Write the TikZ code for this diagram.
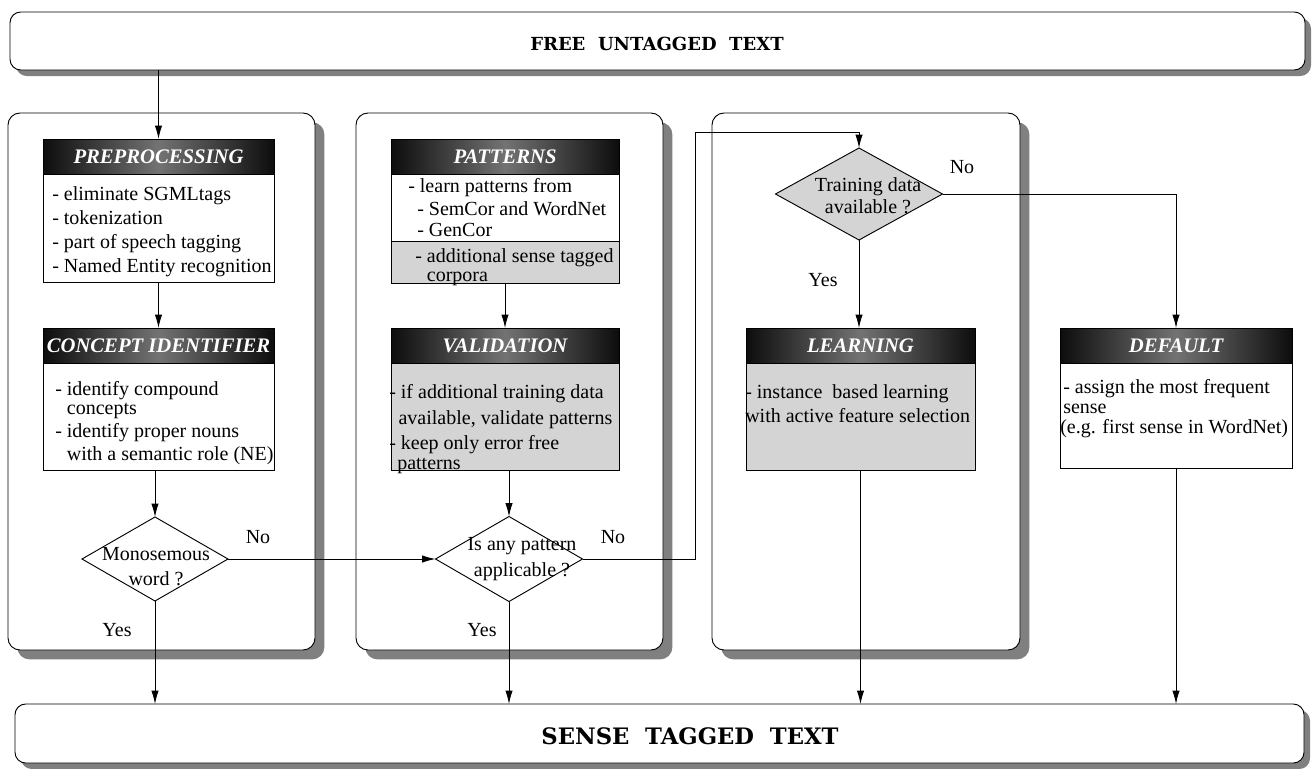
\documentclass[tikz,border=0pt]{standalone}
\usepackage{fontspec}
\setmainfont{Liberation Serif}
\newfontfamily\titlefont{DejaVu Serif}
\usepackage{tikz}
\usetikzlibrary{shapes.geometric,shadows,arrows.meta,positioning}
\tikzstyle{line} = [draw, line width=0.7pt, -{Latex[length=10pt,width=5.5pt]}]
\tikzstyle{panel} = [draw, line width=0.7pt, rounded corners=9pt, fill=white, inner sep=0pt, outer sep=0pt, drop shadow={shadow xshift=7pt, shadow yshift=-7pt, fill=black!50, opacity=1}]
\tikzstyle{textbar} = [draw, line width=0.7pt, rounded corners=8pt, fill=white, inner sep=0pt, outer sep=0pt, drop shadow={shadow xshift=4.5pt, shadow yshift=-4.5pt, fill=black!50, opacity=1}]
\tikzstyle{hdr} = [draw, line width=0.6pt, anchor=north west, inner sep=0pt, outer sep=0pt, minimum height=26.5pt, left color=black!95, right color=black!95, middle color=black!55, text=white, font=\fontsize{15.5}{18}\selectfont\bfseries\itshape]
\tikzstyle{body} = [draw, line width=0.6pt, inner sep=0pt, outer sep=0pt, minimum height=80.25pt, fill=white]
\tikzstyle{graybody} = [body, fill=black!17]
\tikzstyle{txt} = [anchor=north west, inner sep=0pt, align=left, font=\fontsize{15}{18}\selectfont]
\tikzstyle{decision} = [draw, diamond, line width=0.7pt, inner sep=0pt, outer sep=0pt, fill=white]
\tikzstyle{question} = [inner sep=0pt, align=center, font=\fontsize{15}{18.75}\selectfont]
\tikzstyle{answer} = [inner sep=0pt, font=\fontsize{15}{18}\selectfont]
\tikzstyle{title} = [inner sep=0pt, font=\titlefont\bfseries]

\begin{document}
\begin{tikzpicture}[x=0.75pt, y=-0.75pt]
	\useasboundingbox (0,0) rectangle (1312,768);
	
	\node [textbar, minimum width=971.25pt, minimum height=43.5pt] (topBox) at (657.5,41) {};
	\node [title, font=\titlefont\bfseries\fontsize{13.5}{16}\selectfont] (topTxt) at (657,44) {FREE\hspace{0.7em}UNTAGGED\hspace{0.7em}TEXT};
	
	\node [textbar, minimum width=966.75pt, minimum height=44.25pt] (senseBox) at (659.5,733.5) {};
	\node [title, font=\titlefont\bfseries\fontsize{17}{20}\selectfont] (senseTxt) at (690,736) {SENSE\hspace{0.7em}TAGGED\hspace{0.7em}TEXT};
	
	\node [panel, minimum width=230.25pt, minimum height=402.75pt] (pnlA) at (161.5,381.5) {};
	\node [panel, minimum width=230.25pt, minimum height=402.75pt] (pnlB) at (509.5,381.5) {};
	\node [panel, minimum width=231pt, minimum height=402.75pt] (pnlC) at (866,381.5) {};
	
	\node [hdr, minimum width=173.25pt] (prepHdr) at (43,139) {PREPROCESSING};
	\node [body, below=0pt of prepHdr, minimum width=173.25pt, minimum height=81pt] (prepBody) {};
	\node [txt] (prepTxt) at (52,183.2) {\strut- eliminate SGMLtags\\- tokenization\\- part of speech tagging\\- Named Entity recognition};
	
	\node [hdr, minimum width=173.25pt] (concHdr) at (43,328) {CONCEPT IDENTIFIER};
	\node [body, below=0pt of concHdr, minimum width=173.25pt] (concBody) {};
	\node [txt, font=\fontsize{15}{17.25}\selectfont] (concTxt) at (55,378.9) {\strut- identify compound\\[-3pt]\phantom{- }concepts\\- identify proper nouns\\\phantom{- }with a semantic role (NE)};
	
	\node [decision, minimum width=109.5pt, minimum height=63pt] (mono) at (155,559) {};
	\node [question] (monoTxt) at (156,567) {Monosemous\\word ?};
	
	\node [hdr, minimum width=171pt] (patHdr) at (391,139) {PATTERNS};
	\node [body, below=0pt of patHdr, minimum width=171pt, minimum height=50.25pt] (patBody) {};
	\node [graybody, below=0pt of patBody, minimum width=171pt, minimum height=31.5pt] (patXBody) {};
	\node [txt] (patTxt) at (408,175.2) {\strut- learn patterns from\\[-0.75pt]\hspace*{6.75pt}- SemCor and WordNet\\[-2.25pt]\hspace*{6.75pt}- GenCor};
	\node [txt] (patXTxt) at (415,245.2) {\strut- additional sense tagged\\[-3.75pt]\phantom{- }corpora};
	
	\node [hdr, minimum width=171pt] (valHdr) at (391,328) {VALIDATION};
	\node [graybody, below=0pt of valHdr, minimum width=171pt] (valBody) {};
	\node [txt, font=\fontsize{15}{18.75}\selectfont] (valTxt) at (389,380.5) {\strut- if additional training data\\[0.75pt]\hspace*{7pt}available, validate patterns\\- keep only error free\\[-3.75pt]\hspace*{6pt}patterns};
	
	\node [decision, minimum width=110.25pt, minimum height=63.75pt] (apply) at (509,559) {};
	\node [question, font=\fontsize{15}{20}\selectfont] (applyTxt) at (522,559) {Is any pattern\\applicable ?};
	
	\node [decision, fill=black!17, minimum width=125.25pt, minimum height=69pt] (train) at (859,194) {};
	\node [question, font=\fontsize{15}{16.5}\selectfont] (trainTxt) at (868,196) {Training data\\available ?};
	
	\node [hdr, minimum width=171.75pt] (learnHdr) at (746,328) {LEARNING};
	\node [graybody, below=0pt of learnHdr, minimum width=171.75pt] (learnBody) {};
	\node [txt] (learnTxt) at (745,381.2) {\strut- instance\ \ based learning\\with active feature selection};
	
	\node [hdr, minimum width=174pt] (defHdr) at (1060,328) {DEFAULT};
	\node [body, below=0pt of defHdr, minimum width=174pt, minimum height=78.75pt] (defBody) {};
	\node [txt, font=\fontsize{15}{15}\selectfont] (defTxt) at (1063,379) {\strut- assign the most frequent\\sense\\[0pt]\hspace*{-2.25pt}(e.g. first sense in WordNet)};
	
	\node [answer] (noA) at (258,537) {No};
	\node [answer] (yesA) at (117,630) {Yes};
	\node [answer] (noB) at (613,537) {No};
	\node [answer] (yesB) at (482,630) {Yes};
	\node [answer] (noC) at (962,167) {No};
	\node [answer] (yesC) at (823,280) {Yes};
	
	\coordinate (loopTurn) at (695,132);
	
	\path [line] (topBox.south -| prepHdr.north) to (prepHdr.north);
	\path [line] (prepBody.south) to (concHdr.north);
	\path [line] (concBody.south -| mono.north) to (mono.north);
	\path [line] (mono.south) to (mono.south |- senseBox.north);
	\path [line] (mono.east) to (apply.west);
	
	\path [line] (patXBody.south) to (valHdr.north);
	\path [line] (valBody.south -| apply.north) to (apply.north);
	\path [line] (apply.south) to (apply.south |- senseBox.north);
	\path [line] (apply.east) -| (loopTurn) -| (train.north);
	
	\path [line] (train.south) to (train.south |- learnHdr.north);
	\path [line] (train.east) -| (defHdr.north);
	\path [line] (learnBody.south) to (learnBody.south |- senseBox.north);
	\path [line] (defBody.south) to (defBody.south |- senseBox.north);
\end{tikzpicture}
\end{document}
